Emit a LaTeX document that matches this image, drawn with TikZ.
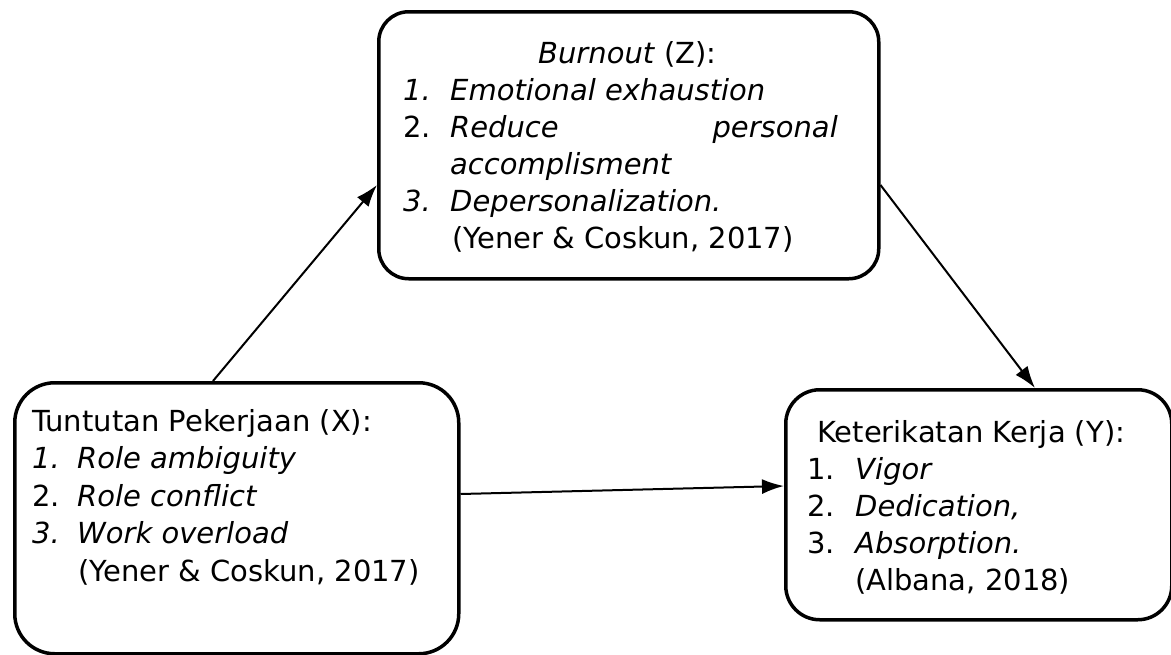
\documentclass[tikz,border=0pt]{standalone}
\usepackage{fontspec}
\setmainfont{DejaVu Sans}
\usetikzlibrary{arrows.meta}
\tikzset{
  boxnode/.style={draw=black, line width=3.5pt, rounded corners=#1, inner sep=0pt, anchor=north west},
  txt/.style={anchor=base west, inner sep=0pt, font=\fontsize{29}{37}\selectfont},
  txtr/.style={anchor=base east, inner sep=0pt, font=\fontsize{29}{37}\selectfont},
  conn/.style={line width=2pt, -{Latex[length=22pt,width=15pt]}}
}
\begin{document}
\begin{tikzpicture}[x=1pt,y=-1pt]
\fill[white] (0,0) rectangle (1171,654);
\useasboundingbox (0,0) rectangle (1171,654);
% boxes
\node[boxnode=40pt, minimum width=444pt, minimum height=271pt] (bx) at (13,381) {};
\node[boxnode=30pt, minimum width=500pt, minimum height=267pt] (bz) at (377,10) {};
\node[boxnode=34pt, minimum width=386pt, minimum height=230pt] (by) at (784,388) {};
% X text
\node[txt] (x0) at (32,431) {Tuntutan Pekerjaan (X):};
\node[txt] (x1n) at (32,468.5) {\itshape 1.};
\node[txt] (x1) at (77,468.5) {\itshape Role ambiguity};
\node[txt] (x2n) at (32,506) {2.};
\node[txt] (x2) at (77,506) {\itshape Role conflict};
\node[txt] (x3n) at (32,543.5) {\itshape 3.};
\node[txt] (x3) at (77,543.5) {\itshape Work overload};
\node[txt] (x4) at (78,581) {(Yener \& Coskun, 2017)};
% Z text
\node[txt] (z0) at (538,63) {\itshape Burnout\/\upshape{} (Z):};
\node[txt] (z1n) at (403,100) {\itshape 1.};
\node[txt] (z1) at (450,100) {\itshape Emotional exhaustion};
\node[txt] (z2n) at (403,137) {2.};
\node[txt] (z2) at (450,137) {\itshape Reduce};
\node[txtr] (z2b) at (838,137) {\itshape personal};
\node[txt] (z3) at (450,174) {\itshape accomplisment};
\node[txt] (z4n) at (403,211) {\itshape 3.};
\node[txt] (z4) at (450,211) {\itshape Depersonalization.};
\node[txt] (z5) at (452,248) {(Yener \& Coskun, 2017)};
% Y text
\node[txt] (y0) at (817,442) {Keterikatan Kerja (Y):};
\node[txt] (y1n) at (807,479) {1.};
\node[txt] (y1) at (855,479) {\itshape Vigor};
\node[txt] (y2n) at (807,516) {2.};
\node[txt] (y2) at (855,516) {\itshape Dedication,};
\node[txt] (y3n) at (807,553) {3.};
\node[txt] (y3) at (855,553) {\itshape Absorption.};
\node[txt] (y4) at (855,590) {(Albana, 2018)};
% connectors
\draw[conn] ([xshift=200pt]bx.north west) -- ([yshift=-175pt]bz.north west);
\draw[conn] ([yshift=-175pt]bz.north east) -- ([xshift=251pt]by.north west);
\draw[conn] ([yshift=-113pt]bx.north east) -- ([yshift=-98pt]by.north west);
\end{tikzpicture}
\end{document}
